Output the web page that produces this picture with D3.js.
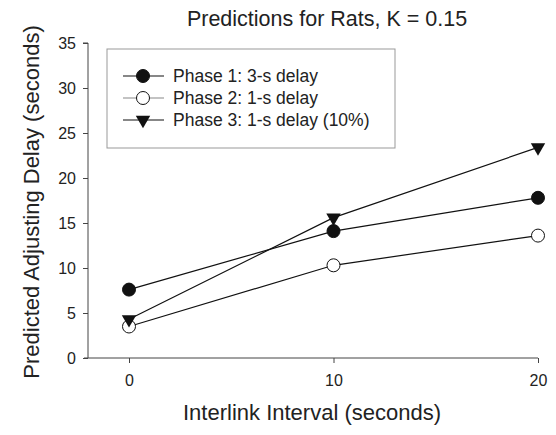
<!DOCTYPE html>
<html>
<head>
<meta charset="utf-8">
<script src="https://cdn.jsdelivr.net/npm/d3@7"></script>
<style>
  body { margin: 0; background: #fff; }
  text { font-family: "Liberation Sans", Arial, sans-serif; fill: #222; }
</style>
</head>
<body>
<script>
var intervals = [0, 10, 20];
var phase1 = [7.6, 14.1, 17.8];
var phase2 = [3.5, 10.3, 13.6];
var phase3 = [4.3, 15.6, 23.4];
var seriesNames = ["Phase 1: 3-s delay", "Phase 2: 1-s delay", "Phase 3: 1-s delay (10%)"];
var yTicks = [0, 5, 10, 15, 20, 25, 30, 35];

var width = 556, height = 435;

var x = d3.scaleLinear().domain([0, 20]).range([129, 538]);
var y = d3.scaleLinear().domain([0, 35]).range([358, 43]);

var svg = d3.select("body").append("svg")
    .attr("width", width)
    .attr("height", height);

// axes
var yAxis = d3.axisLeft(y).tickValues(yTicks).tickSize(5).tickPadding(7);
var xAxis = d3.axisBottom(x).tickValues(intervals).tickSize(5).tickPadding(12);

var gy = svg.append("g")
    .attr("transform", "translate(88,0)")
    .call(yAxis);
gy.select(".domain").attr("d", "M-5,43H0V358");

var gx = svg.append("g")
    .attr("transform", "translate(0,358)")
    .call(xAxis);
gx.select(".domain").attr("d", "M84,0H538");

svg.selectAll(".domain, .tick line").attr("stroke", "#444");
svg.selectAll(".tick text")
    .style("font-family", "'Liberation Sans', Arial, sans-serif")
    .style("font-size", "16px")
    .attr("fill", "#222");

// titles
svg.append("text")
    .attr("x", 327).attr("y", 26)
    .attr("text-anchor", "middle")
    .style("font-size", "21.5px")
    .text("Predictions for Rats, K = 0.15");

svg.append("text")
    .attr("x", 312).attr("y", 420)
    .attr("text-anchor", "middle")
    .style("font-size", "22px")
    .text("Interlink Interval (seconds)");

svg.append("text")
    .attr("transform", "translate(39,202) rotate(-90)")
    .attr("text-anchor", "middle")
    .style("font-size", "22px")
    .text("Predicted Adjusting Delay (seconds)");

// series
var series = [phase1, phase2, phase3].map(function(vals, i) {
    return {
        name: seriesNames[i],
        points: vals.map(function(v, j) { return { x: intervals[j], y: v }; })
    };
});

var line = d3.line()
    .x(d => x(d.x))
    .y(d => y(d.y));

var tri = d3.symbol().type(d3.symbolTriangle).size(90);

function drawMarker(g, i) {
    if (i === 2) {
        g.append("path")
            .attr("d", tri)
            .attr("transform", "rotate(180)")
            .attr("fill", "#111");
    } else {
        g.append("circle")
            .attr("r", 6.5)
            .attr("fill", i === 0 ? "#111" : "#fff")
            .attr("stroke", "#111")
            .attr("stroke-width", 1);
    }
}

svg.selectAll(".line")
    .data(series)
    .enter()
    .append("path")
    .attr("class", "line")
    .attr("fill", "none")
    .attr("stroke", "#111")
    .attr("stroke-width", 1.2)
    .attr("d", d => line(d.points));

series.forEach(function(s, i) {
    s.points.forEach(function(p) {
        var g = svg.append("g")
            .attr("transform", "translate(" + x(p.x) + "," + y(p.y) + ")");
        drawMarker(g, i);
    });
});

// legend
var legend = svg.append("g");
legend.append("rect")
    .attr("x", 107).attr("y", 49)
    .attr("width", 288).attr("height", 99)
    .attr("fill", "#fff")
    .attr("stroke", "#999")
    .attr("stroke-width", 1);

var rowY = [76, 98, 120];
series.forEach(function(s, i) {
    var row = legend.append("g").attr("transform", "translate(0," + rowY[i] + ")");
    row.append("line")
        .attr("x1", 123).attr("x2", 164)
        .attr("stroke", i === 1 ? "#888" : "#111")
        .attr("stroke-width", 1.2);
    var m = row.append("g").attr("transform", "translate(143,0)");
    drawMarker(m, i);
    row.append("text")
        .attr("x", 173).attr("y", 6)
        .style("font-size", "17.5px")
        .text(s.name);
});
</script>
</body>
</html>
